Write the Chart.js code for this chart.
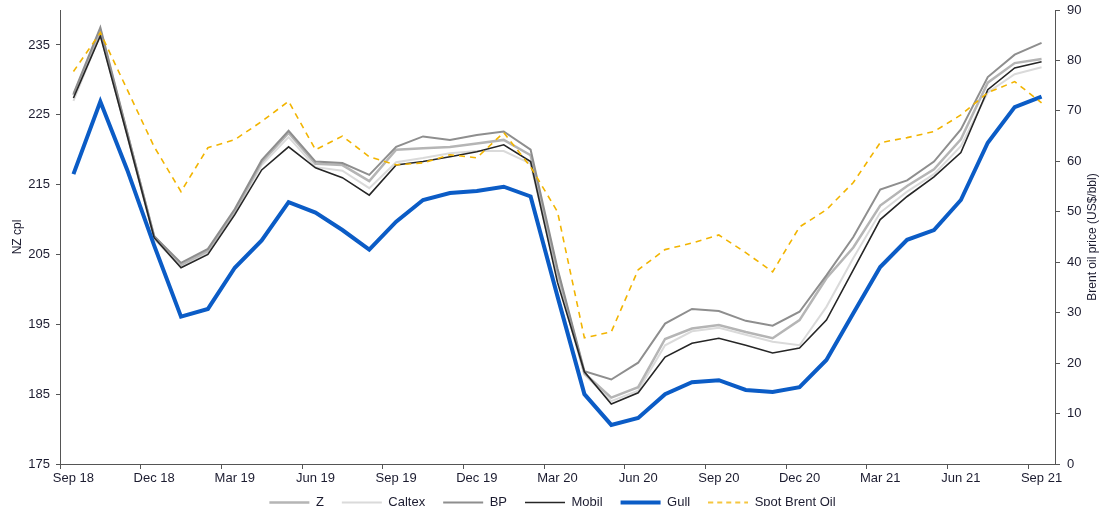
<!DOCTYPE html>
<html>
<head>
<meta charset="utf-8">
<script src="https://cdn.jsdelivr.net/npm/chart.js@4/dist/chart.umd.min.js"></script>
<style>
  html, body { margin: 0; padding: 0; background: #fff; }
  #wrap { width: 1105px; height: 518px; }
</style>
</head>
<body>
<div id="wrap"><canvas id="fuelChart"></canvas></div>
<script>
// Monthly categories, Sep 18 - Sep 21
const months = [
    'Sep 18', 'Oct 18', 'Nov 18', 'Dec 18', 'Jan 19', 'Feb 19', 'Mar 19', 'Apr 19', 'May 19',
    'Jun 19', 'Jul 19', 'Aug 19', 'Sep 19', 'Oct 19', 'Nov 19', 'Dec 19', 'Jan 20', 'Feb 20',
    'Mar 20', 'Apr 20', 'May 20', 'Jun 20', 'Jul 20', 'Aug 20', 'Sep 20', 'Oct 20', 'Nov 20',
    'Dec 20', 'Jan 21', 'Feb 21', 'Mar 21', 'Apr 21', 'May 21', 'Jun 21', 'Jul 21', 'Aug 21', 'Sep 21'
];
const quarterLabels = ['Sep 18', 'Dec 18', 'Mar 19', 'Jun 19', 'Sep 19', 'Dec 19', 'Mar 20',
    'Jun 20', 'Sep 20', 'Dec 20', 'Mar 21', 'Jun 21', 'Sep 21'];

const leftTicks = [175, 185, 195, 205, 215, 225, 235];
const rightTicks = [0, 10, 20, 30, 40, 50, 60, 70, 80, 90];

// NZ cents per litre
const zPrice = [227.8, 237.0, 222.3, 207.6, 203.5, 205.5, 211.2, 218.2, 222.4, 218.0, 217.8, 215.5,
    220.0, 220.2, 220.4, 220.9, 221.4, 219.2, 202.5, 188.0, 184.5, 186.0, 192.9, 194.4, 194.9,
    193.9, 193.0, 195.6, 201.6, 206.0, 212.0, 214.8, 217.2, 221.5, 229.6, 232.4, 233.0];
const caltexPrice = [227.0, 236.5, 222.0, 207.2, 203.2, 205.2, 211.0, 217.8, 221.8, 217.5, 217.0, 214.5,
    218.2, 218.8, 219.5, 219.8, 219.8, 218.0, 201.5, 187.8, 184.0, 185.5, 192.0, 194.0, 194.5,
    193.5, 192.5, 192.0, 197.5, 204.5, 211.0, 214.0, 216.5, 220.5, 228.2, 230.8, 231.8];
const bpPrice = [228.0, 237.5, 222.5, 207.6, 203.8, 205.8, 211.5, 218.5, 222.7, 218.3, 218.1, 216.4,
    220.4, 221.9, 221.4, 222.1, 222.6, 220.0, 203.0, 188.3, 187.1, 189.5, 195.1, 197.2, 196.9,
    195.5, 194.8, 196.8, 202.0, 207.5, 214.3, 215.6, 218.3, 222.9, 230.4, 233.6, 235.3];
const mobilPrice = [227.4, 236.3, 222.0, 207.4, 203.1, 205.0, 210.7, 217.1, 220.4, 217.4, 216.0, 213.5,
    217.8, 218.3, 219.0, 219.7, 220.7, 218.3, 201.0, 188.2, 183.6, 185.2, 190.3, 192.3, 193.0,
    192.0, 190.9, 191.6, 195.6, 202.8, 210.0, 213.3, 216.1, 219.6, 228.6, 231.7, 232.6];
const gullPrice = [216.5, 226.9, 217.1, 206.3, 196.1, 197.2, 203.1, 207.0, 212.5, 211.0, 208.5, 205.7,
    209.7, 212.8, 213.8, 214.1, 214.7, 213.3, 199.0, 185.0, 180.6, 181.6, 185.0, 186.7, 187.0,
    185.6, 185.3, 186.0, 189.9, 196.6, 203.2, 207.1, 208.5, 212.8, 221.0, 226.1, 227.6];
// US$/bbl
const brentPrice = [77.8, 85.5, 74.2, 62.9, 54.0, 62.7, 64.3, 67.9, 71.9, 62.3, 65.0, 60.9,
    59.3, 59.7, 61.3, 60.7, 65.7, 58.9, 50.0, 25.0, 26.2, 38.5, 42.5, 43.8, 45.4,
    41.9, 38.1, 47.0, 50.4, 55.8, 63.7, 64.7, 65.9, 69.2, 73.6, 75.8, 71.6];

const textColor = '#1c1c30';
const axisColor = '#555555';
const fontFamily = '"Liberation Sans", Arial, sans-serif';

function priceLine(label, data, color, width, extra) {
    return Object.assign({
        label: label,
        data: data,
        borderColor: color,
        backgroundColor: color,
        borderWidth: width,
        pointRadius: 0,
        tension: 0,
        yAxisID: 'y'
    }, extra || {});
}

// small dashed sample for the legend (point style 'line' ignores dashes)
function dashSample(color, width, dash) {
    const cv = document.createElement('canvas');
    cv.width = 40;
    cv.height = 6;
    const c = cv.getContext('2d');
    c.strokeStyle = color;
    c.lineWidth = width;
    c.setLineDash(dash);
    c.beginPath();
    c.moveTo(0, 3);
    c.lineTo(40, 3);
    c.stroke();
    return cv;
}

// right-hand axis title, reading bottom to top like the left one
const rightTitle = {
    id: 'rightTitle',
    afterDraw(chart) {
        const c = chart.ctx;
        const area = chart.chartArea;
        c.save();
        c.translate(1093, (area.top + area.bottom) / 2);
        c.rotate(-Math.PI / 2);
        c.fillStyle = textColor;
        c.font = '12px ' + fontFamily;
        c.textAlign = 'center';
        c.textBaseline = 'middle';
        c.fillText('Brent oil price (US$/bbl)', 0, 0);
        c.restore();
    }
};

// short legend box, then nudge it up a little under the axis labels
const legendBox = {
    id: 'legendBox',
    beforeLayout(chart) {
        const lg = chart.legend;
        if (lg && !lg._fixedFit) {
            const fit = lg.fit;
            lg.fit = function () {
                fit.call(this);
                this.height = 28;
            };
            lg._fixedFit = true;
        }
    },
    afterLayout(chart) {
        const lg = chart.legend;
        if (lg) {
            lg.top -= 11;
            lg.bottom -= 11;
        }
    }
};

const yPadding = s => { s.paddingTop = 10; s.paddingBottom = 0; };

const ctx = document.getElementById('fuelChart').getContext('2d');
new Chart(ctx, {
    type: 'line',
    data: {
        labels: months,
        datasets: [
            priceLine('Z', zPrice, '#b5b5b5', 2.5, { order: 5 }),
            priceLine('Caltex', caltexPrice, '#dadada', 2, { order: 6 }),
            priceLine('BP', bpPrice, '#8e8e8e', 2, { order: 4 }),
            priceLine('Mobil', mobilPrice, '#262626', 1.6, { order: 3 }),
            priceLine('Gull', gullPrice, '#0b5cc6', 4, { order: 2 }),
            priceLine('Spot Brent Oil', brentPrice, '#f2b400', 1.6, {
                order: 1, borderDash: [6, 5], yAxisID: 'y1'
            })
        ]
    },
    options: {
        responsive: true,
        maintainAspectRatio: false,
        animation: false,
        layout: { padding: { top: 0, left: 0, right: 0, bottom: 1 } },
        plugins: {
            tooltip: { enabled: false },
            legend: {
                position: 'bottom',
                labels: {
                    usePointStyle: true,
                    pointStyle: 'line',
                    pointStyleWidth: 40,
                    padding: 18,
                    color: textColor,
                    font: { family: fontFamily, size: 13 },
                    sort: (a, b) => a.datasetIndex - b.datasetIndex,
                    generateLabels: chart => {
                        const items = Chart.defaults.plugins.legend.labels.generateLabels(chart);
                        items.forEach(it => {
                            const ds = chart.data.datasets[it.datasetIndex];
                            if (ds.borderDash) {
                                it.pointStyle = dashSample(ds.borderColor, ds.borderWidth, [5, 4]);
                            }
                        });
                        return items;
                    }
                }
            }
        },
        scales: {
            x: {
                type: 'category',
                offset: true,
                border: { color: axisColor, width: 1 },
                grid: {
                    offset: true,
                    drawOnChartArea: false,
                    drawTicks: true,
                    tickLength: 5,
                    color: c => (c.index % 3 === 0 && c.index < months.length) ? axisColor : 'rgba(0,0,0,0)'
                },
                ticks: {
                    autoSkip: false,
                    maxRotation: 0,
                    padding: 2,
                    color: textColor,
                    font: { family: fontFamily, size: 13 },
                    callback: (val, i) => quarterLabels.includes(months[i]) ? months[i] : ''
                },
                afterFit: s => { s.height = 25; }
            },
            y: {
                position: 'left',
                min: 175,
                max: 240,
                border: { color: axisColor, width: 1 },
                grid: { drawOnChartArea: false, tickLength: 4, color: axisColor },
                afterBuildTicks: s => { s.ticks = leftTicks.map(v => ({ value: v })); },
                ticks: {
                    padding: 6,
                    color: textColor,
                    font: { family: fontFamily, size: 13 }
                },
                title: {
                    display: true,
                    text: 'NZ cpl',
                    color: textColor,
                    padding: 10,
                    font: { family: fontFamily, size: 12 }
                },
                afterFit: s => { s.width = 60; yPadding(s); }
            },
            y1: {
                position: 'right',
                min: 0,
                max: 90,
                border: { color: axisColor, width: 1 },
                grid: { drawOnChartArea: false, tickLength: 5, color: axisColor },
                afterBuildTicks: s => { s.ticks = rightTicks.map(v => ({ value: v })); },
                ticks: {
                    padding: 7,
                    color: textColor,
                    font: { family: fontFamily, size: 13 }
                },
                afterFit: s => { s.width = 50; yPadding(s); }
            }
        }
    },
    plugins: [rightTitle, legendBox]
});
</script>
</body>
</html>
